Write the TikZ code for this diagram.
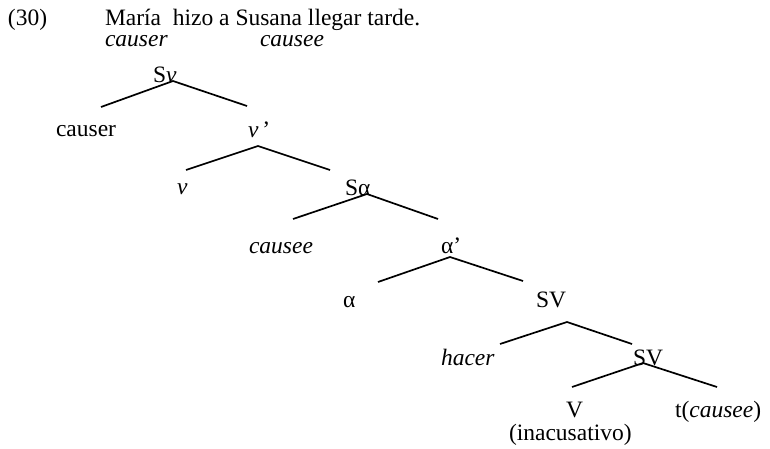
\documentclass[tikz,border=0pt]{standalone}
\usepackage{fontspec}
\setmainfont{Liberation Serif}
\begin{document}
\begin{tikzpicture}[x=1pt,y=-1pt,
  lab/.style={anchor=base west,inner sep=0pt,outer sep=0pt,font=\fontsize{23.5}{28}\selectfont},
  branch/.style={line width=1.7pt}]
\useasboundingbox (0,0) rectangle (770,449);
% header
\node[lab] (num) at (8,26) {(30)};
\node[lab] (sent) at (105,26) {María\ \ hizo a Susana llegar tarde.};
\node[lab] (causerA) at (105,47) {\itshape causer};
\node[lab] (causeeA) at (260,47) {\itshape causee};
% labels
\node[lab] (Sv) at (153,83) {S\textit{v}};
\node[lab] (causer) at (56,137) {causer};
\node[lab] (vbar) at (248,138) {\textit{v}\,’};
\node[lab] (v) at (177,194) {\textit{v}};
\node[lab] (Sa) at (345,195) {Sα};
\node[lab] (causee) at (249,253) {\itshape causee};
\node[lab] (abar) at (441,253) {α’};
\node[lab] (a) at (343,307) {α};
\node[lab] (SV) at (536,307) {SV};
\node[lab] (hacer) at (441,365) {\itshape hacer};
\node[lab] (SVb) at (633,365) {SV};
\node[lab] (V) at (566,417) {V};
\node[lab] (t) at (675,417) {t(\textit{causee})};
\node[lab] (inac) at (509,440) {(inacusativo)};
% branch points
\coordinate (Sv-a) at (173,81);  \coordinate (Sv-l) at (101,107); \coordinate (Sv-r) at (247,106);
\coordinate (vb-a) at (258,146); \coordinate (vb-l) at (186,170); \coordinate (vb-r) at (330,170);
\coordinate (Sa-a) at (367,194); \coordinate (Sa-l) at (293,219); \coordinate (Sa-r) at (438,219);
\coordinate (ab-a) at (450,257); \coordinate (ab-l) at (378,282); \coordinate (ab-r) at (523,281);
\coordinate (SV-a) at (567,322); \coordinate (SV-l) at (500,344); \coordinate (SV-r) at (632,344);
\coordinate (SVb-a) at (643,363); \coordinate (SVb-l) at (572,387); \coordinate (SVb-r) at (717,387);
\draw[branch] (Sv-l) -- (Sv-a) -- (Sv-r);
\draw[branch] (vb-l) -- (vb-a) -- (vb-r);
\draw[branch] (Sa-l) -- (Sa-a) -- (Sa-r);
\draw[branch] (ab-l) -- (ab-a) -- (ab-r);
\draw[branch] (SV-l) -- (SV-a) -- (SV-r);
\draw[branch] (SVb-l) -- (SVb-a) -- (SVb-r);
\end{tikzpicture}
\end{document}
